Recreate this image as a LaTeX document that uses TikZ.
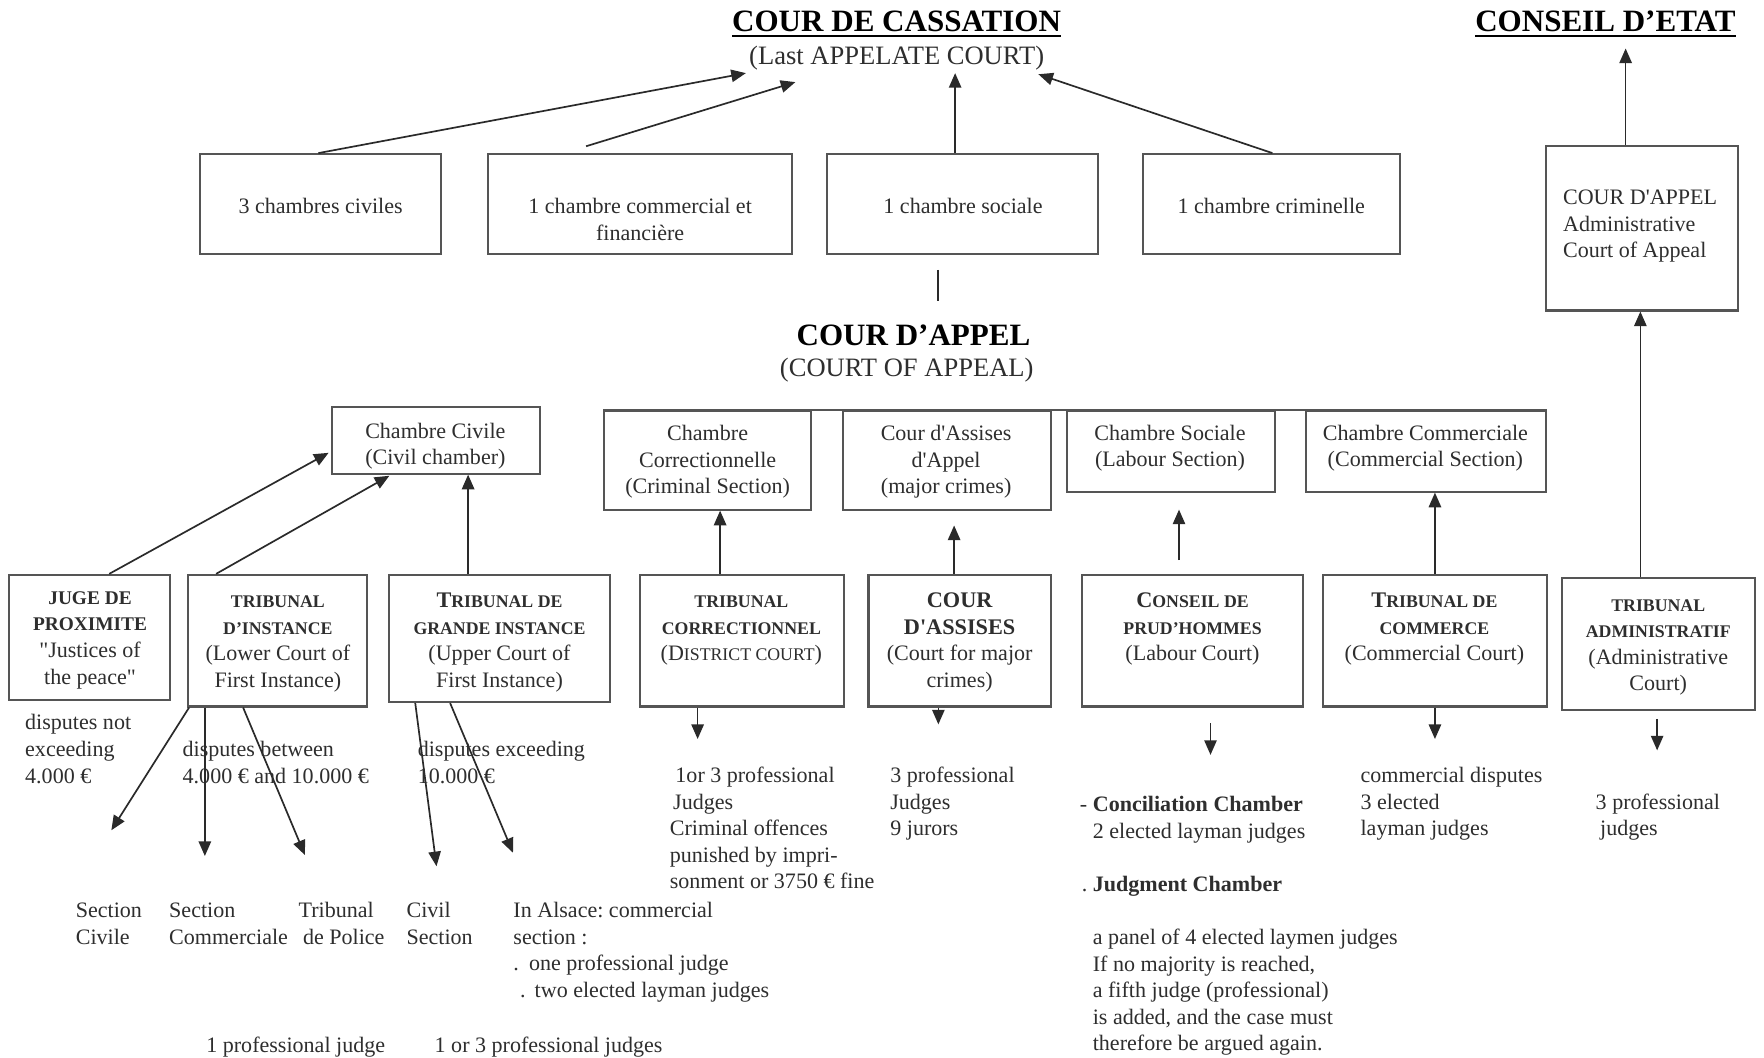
\documentclass[tikz,border=0pt]{standalone}
\usepackage{fontspec}
\setmainfont{Liberation Serif}[Ligatures=TeXOff]
\usetikzlibrary{arrows.meta,fit,calc}
\definecolor{boxc}{HTML}{555555}
\definecolor{linec}{HTML}{2A2A2A}
\definecolor{txtc}{HTML}{2E2E2E}
\frenchspacing
\newcommand\bodyf{\fontsize{9.8pt}{11.8pt}\selectfont\frenchspacing}
\newcommand\hsm[1]{{\fontsize{7.9pt}{11.8pt}\selectfont\bfseries #1}}
\newcommand\hbg[1]{{\fontsize{9.9pt}{11.8pt}\selectfont\bfseries #1}}
\newcommand\hmd[1]{{\fontsize{8.6pt}{11.8pt}\selectfont\bfseries #1}}
\newcommand\rsm[1]{{\fontsize{7.9pt}{11.8pt}\selectfont #1}}
\newcommand\thickul[1]{\setbox0=\hbox{#1}\rlap{\rule[-2.6pt]{\wd0}{1.2pt}}\box0}
\tikzset{
  box/.style={draw=boxc, line width=0.9pt, inner sep=0pt},
  arr/.style={draw=linec, line width=0.75pt, -{Triangle[length=6.5pt,width=5.5pt]}},
  ln/.style={draw=linec, line width=0.75pt},
  boxline/.style={draw=boxc, line width=0.9pt},
  ct/.style={text=txtc, font=\bodyf, inner sep=0pt, align=center, anchor=base},
  lt/.style={text=txtc, font=\bodyf, inner sep=0pt, align=left, anchor=base west},
  title/.style={text=black, font=\fontsize{13.8pt}{16pt}\selectfont\bfseries, inner sep=0pt, anchor=base},
  sub/.style={text=txtc, font=\fontsize{11.8pt}{14pt}\selectfont, inner sep=0pt, anchor=base}
}
\begin{document}
\begin{tikzpicture}[x=0.5pt,y=-0.5pt]
\useasboundingbox (0,0) rectangle (1568,940);
\fill[white] (0,0) rectangle (1568,940);

% (multi-line text nodes are placed by the baseline of their LAST line)

% ---------- titles ----------
\node[title] (cassation) at (797,28) {\thickul{COUR DE CASSATION}};
\node[sub] (cassub) at (797,57) {(Last APPELATE COURT)};
\node[title] (etat) at (1427,28) {\thickul{CONSEIL D’ETAT}};
\node[title] (appel) at (812,307) {COUR D’APPEL};
\node[sub] (appelsub) at (806,335) {(COURT OF APPEAL)};

% ---------- Cour de cassation chambers ----------
\node[box, fit={(178,137) (392,226)}] (civ3) {};
\node[ct] (civ3t) at (285,190) {3 chambres civiles};
\node[box, fit={(434,137) (704,226)}] (comm) {};
\node[ct] (commt) at (569,213.6) {1 chambre commercial et\\financière};
\node[box, fit={(735,137) (976,226)}] (soc) {};
\node[ct] (soct) at (856,190) {1 chambre sociale};
\node[box, fit={(1016,137) (1244,226)}] (crim) {};
\node[ct] (crimt) at (1130,190) {1 chambre criminelle};

\coordinate (tA) at (663,65);
\coordinate (sB) at (521,130);
\coordinate (tB) at (707,73);
\coordinate (tC) at (849,65);
\coordinate (tD) at (923,66);
\draw[arr] ($(civ3.north)+(-2,0)$) -- (tA);
\draw[arr] (sB) -- (tB);
\draw[arr] (tC |- soc.north) -- (tC);
\draw[arr] ($(crim.north)+(1,0)$) -- (tD);

% ---------- administrative ----------
\node[box, fit={(1374,130) (1545,276)}] (admapp) {};
\node[lt] (admappt) at (1389,229) {COUR D'APPEL\\Administrative\\Court of Appeal};
\draw[arr] ($(admapp.north)+(-14.5,0)$) -- ++(0,-86);

% ---------- link cassation / appel ----------
\coordinate (lk1) at (834,240);
\coordinate (lk2) at (834,268);
\draw[ln] (lk1) -- (lk2);

% ---------- Cour d'appel chambers ----------
\node[box, fit={(295,362) (480,421)}] (cciv) {};
\node[ct] (ccivt) at (387,413) {Chambre Civile\\(Civil chamber)};
\node[box, fit={(537,365) (721,453)}] (ccor) {};
\node[ct] (ccort) at (629,439) {Chambre\\Correctionnelle\\(Criminal Section)};
\node[box, fit={(749,365) (934,453)}] (cass) {};
\node[ct] (casst) at (841,439) {Cour d'Assises\\d'Appel\\(major crimes)};
\node[box, fit={(948,365) (1133,437)}] (csoc) {};
\node[ct] (csoct) at (1040,415) {Chambre Sociale\\(Labour Section)};
\node[box, fit={(1161,365) (1374,437)}] (ccom) {};
\node[ct] (ccomt) at (1267,415) {Chambre Commerciale\\(Commercial Section)};
\draw[boxline] (ccor.north west) -- (ccom.north east);

% ---------- first instance courts ----------
\node[box, fit={(8,511) (151,622)}] (juge) {};
\node[ct] (juget) at (80,608) {\hmd{JUGE DE}\\\hmd{PROXIMITE}\\"Justices of\\the peace"};
\node[box, fit={(167,511) (326,628)}] (tinst) {};
\node[ct] (tinstt) at (247,611) {\hsm{TRIBUNAL}\\\hsm{D’INSTANCE}\\(Lower Court of\\First Instance)};
\node[box, fit={(346,511) (542,624)}] (tgi) {};
\node[ct] (tgit) at (444,611) {\hbg{T}\hsm{RIBUNAL DE}\\\hsm{GRANDE INSTANCE}\\(Upper Court of\\First Instance)};
\node[box, fit={(569,511) (750,628)}] (tcor) {};
\node[ct] (tcort) at (659,587.5) {\hsm{TRIBUNAL}\\\hsm{CORRECTIONNEL}\\(D\rsm{ISTRICT COURT})};
\node[box, fit={(772,511) (934,628)}] (tcass) {};
\node[ct] (tcasst) at (853,611) {\hbg{COUR}\\\hbg{D'ASSISES}\\(Court for major\\crimes)};
\node[box, fit={(962,511) (1158,628)}] (cph) {};
\node[ct] (cpht) at (1060,587.5) {\hbg{C}\hsm{ONSEIL DE}\\\hsm{PRUD’HOMMES}\\(Labour Court)};
\node[box, fit={(1176,511) (1375,628)}] (tcom) {};
\node[ct] (tcomt) at (1275,587.5) {\hbg{T}\hsm{RIBUNAL DE}\\\hsm{COMMERCE}\\(Commercial Court)};
\node[box, fit={(1388,514) (1560,631)}] (tadm) {};
\node[ct] (tadmt) at (1474,614) {\hsm{TRIBUNAL}\\\hsm{ADMINISTRATIF}\\(Administrative\\Court)};

% ---------- upward arrows ----------
\draw[arr] ($(juge.north west)+(90,0)$) -- ($(cciv.west)+(-2,11)$);
\draw[arr] ($(tinst.north west)+(26,0)$) -- ($(cciv.south west)+(52,1)$);
\draw[arr] ($(tgi.north west)+(71,0)$) coordinate (g1) -- (g1 |- cciv.south);
\draw[arr] ($(tcor.north west)+(72,0)$) coordinate (g2) -- (g2 |- ccor.south);
\draw[arr] ($(tcass.north west)+(77,0)$) -- ++(0,-43);
\coordinate (ph1) at (1048,498);
\coordinate (ph2) at (1048,453);
\draw[arr] (ph1) -- (ph2);
\draw[arr] (tcom.north) -- (tcom.north |- ccom.south);
\draw[arr] ($(tadm.north west)+(71,0)$) coordinate (g3) -- (g3 |- admapp.south);

% ---------- downward arrows ----------
\coordinate (d1) at (99,738);
\coordinate (d3) at (271,760);
\coordinate (d4) at (388,770);
\coordinate (d5) at (456,758);
\draw[arr] ($(tinst.south west)+(2,0)$) -- (d1);
\draw[arr] ($(tinst.south west)+(16,0)$) -- ++(0,132);
\draw[arr] ($(tinst.south west)+(50,0)$) -- (d3);
\draw[arr] ($(tgi.south west)+(24,0)$) -- (d4);
\draw[arr] ($(tgi.south west)+(55,0)$) -- (d5);
\draw[arr] ($(tcor.south west)+(52,0)$) -- ++(0,28);
\draw[arr] ($(tcass.south west)+(63,0)$) -- ++(0,15);
\coordinate (pd1) at (1076,643);
\coordinate (pd2) at (1076,671);
\draw[arr] (pd1) -- (pd2);
\draw[arr] (tcom.south) -- ++(0,28);
\coordinate (ad1) at (1473,639);
\coordinate (ad2) at (1473,667);
\draw[arr] (ad1) -- (ad2);

% ---------- free texts ----------
\node[lt] (n1) at (22,696) {disputes not\\exceeding\\4.000 €};
\node[lt] (n2) at (162,696) {disputes between\\4.000 € and 10.000 €};
\node[lt] (n3) at (371,696) {disputes exceeding\\10.000 €};
\node[lt] (s1) at (67,839.5) {Section\\Civile};
\node[lt] (s2) at (150,839.5) {Section\\Commerciale};
\node[lt] (s3) at (265,839.5) {Tribunal\\\hspace{2pt}de Police};
\node[lt] (s4) at (361,839.5) {Civil\\Section};
\node[lt] (s5) at (456,886.5) {In Alsace: commercial\\section :\\.\hspace{4.5pt}one professional judge\\\hspace{3pt}.\hspace{4pt}two elected layman judges};
\node[lt] (j1) at (183,935.5) {1 professional judge};
\node[lt] (j2) at (386,935.5) {1 or 3 professional judges};
\node[lt] (c1) at (595,790) {\hspace{2.5pt}1or 3 professional\\\hspace{1.5pt}Judges\\Criminal offences\\punished by impri-\\sonment or 3750 € fine};
\node[lt] (c2) at (791,743) {3 professional\\Judges\\9 jurors};
\node[lt] (p1) at (971,934) {\llap{- }\textbf{Conciliation Chamber}\\2 elected layman judges\\[11.8pt]\llap{. }\textbf{Judgment Chamber}\\[11.8pt]a panel of 4 elected laymen judges\\If no majority is reached,\\a fifth judge (professional)\\is added, and the case must\\therefore be argued again.};
\node[lt] (m1) at (1209,743) {commercial disputes\\3 elected\\layman judges};
\node[lt] (a1) at (1418,743) {3 professional\\\hspace{2pt}judges};
\end{tikzpicture}
\end{document}
